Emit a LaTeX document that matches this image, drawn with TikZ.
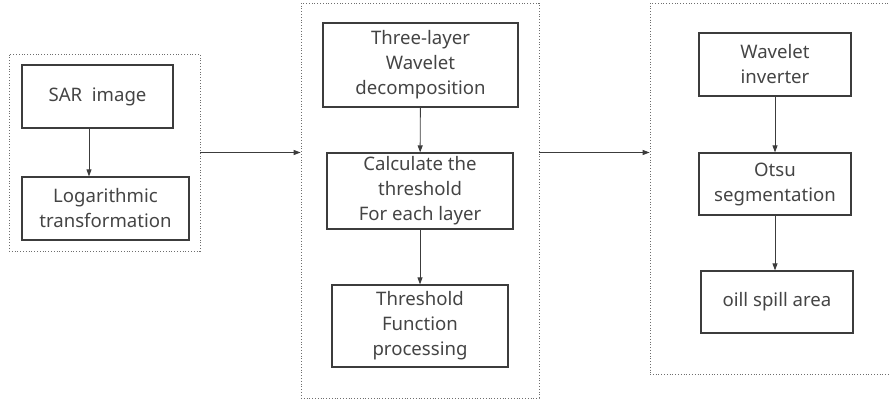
\documentclass[tikz,border=0pt]{standalone}
\usepackage{fontspec}
\setmainfont{Noto Sans}
\usetikzlibrary{arrows.meta,positioning}
\definecolor{ink}{HTML}{3C3C3C}
\definecolor{textgray}{HTML}{444444}
\definecolor{framegray}{HTML}{6E6E6E}
\tikzset{
  >={Triangle[length=7pt,width=5pt]},
  flow/.style={draw=ink, line width=.9pt, ->},
  stepbox/.style={draw=ink, line width=1.2pt, align=center,
    text=textgray, inner sep=2pt,
    font=\fontsize{18.6}{25}\selectfont},
  group/.style={draw=framegray, line width=.8pt, dotted, inner sep=0pt}
}

\begin{document}
\begin{tikzpicture}[x=1pt,y=-1pt]
  \useasboundingbox (0,0) rectangle (890,403);
  \clip (0,0) rectangle (890,403);

  % ------------------------------------------------------------------
  % frames
  \node[group, minimum width=191pt, minimum height=197pt] (leftgrp) at (104.5,152.5) {};
  \node[group, minimum width=238pt, minimum height=395pt] (midgrp) at (420,200.5) {};
  \node[group, minimum width=250pt, minimum height=371pt] (rightgrp) at (775,188.5) {};

  % ------------------------------------------------------------------
  % pre-processing
  \node[stepbox, minimum width=151pt, minimum height=63pt] (sar) at (97.5,96.5) {SAR\ \ image};
  \node[stepbox, minimum width=167pt, minimum height=63pt] (logt) at (105.5,208.5)
    {Logarithmic\\transformation};

  % ------------------------------------------------------------------
  % wavelet denoising
  \node[stepbox, minimum width=195pt, minimum height=84pt] (decomp) at (420.5,65)
    {Three-layer\\Wavelet\\decomposition};
  \node[stepbox, minimum width=186pt, minimum height=76pt] (calc) at (420,191)
    {Calculate the\\threshold\\For each layer};
  \node[stepbox, minimum width=176pt, minimum height=82pt] (thfun) at (420,326)
    {Threshold\\Function\\processing};

  % ------------------------------------------------------------------
  % segmentation
  \node[stepbox, minimum width=152pt, minimum height=63pt] (inv) at (775,64.5)
    {Wavelet\\inverter};
  \node[stepbox, minimum width=152pt, minimum height=62pt] (otsu) at (775,184)
    {Otsu\\segmentation};
  \node[stepbox, minimum width=152pt, minimum height=62pt] (oil) at (777,302)
    {oill spill area};

  % ------------------------------------------------------------------
  % connectors
  \draw[flow] ([xshift=-8.5pt]sar.south) -- ([xshift=-8.5pt]sar.south |- logt.north);
  \draw[flow] (decomp) -- (calc);
  \draw[flow] (calc) -- (thfun);
  \draw[flow] (inv) -- (otsu);
  \draw[flow] (otsu.south) -- (otsu.south |- oil.north);
  \draw[flow] (leftgrp.east) -- (leftgrp.east -| midgrp.west);
  \draw[flow] (midgrp.east |- leftgrp.east) -- (leftgrp.east -| rightgrp.west);
\end{tikzpicture}
\end{document}
